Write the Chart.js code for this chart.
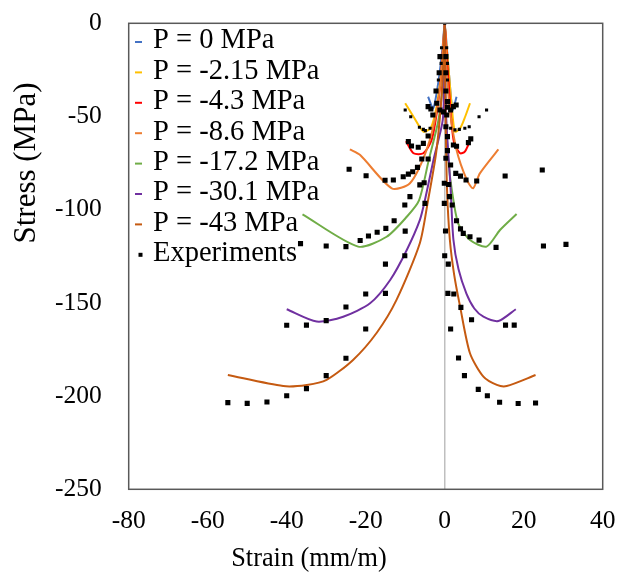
<!DOCTYPE html>
<html>
<head>
<meta charset="utf-8">
<script src="https://cdn.jsdelivr.net/npm/chart.js@4.4.0/dist/chart.umd.min.js"></script>
<style>
  html, body { margin: 0; padding: 0; background: #fff; }
</style>
</head>
<body>
<canvas id="grafica-esfuerzo" width="620" height="578"></canvas>
<script>
// Datos (Strain mm/m vs Stress MPa)
const etiquetas = ['P = 0 MPa', 'P = -2.15 MPa', 'P = -4.3 MPa', 'P = -8.6 MPa',
  'P = -17.2 MPa', 'P = -30.1 MPa', 'P = -43 MPa'];
const colores = ['#4472C4', '#FFC000', '#FF0000', '#ED7D31', '#70AD47', '#7030A0', '#C55A11'];

const p0X = [-4.2, -2.9, -1.5, -0.5, 0, 0.5, 1.2, 2.0, 3.0];
const p0Y = [-39.4, -45.6, -30, -12, 0, -12, -30, -46.5, -39.4];

const p215X = [-10, -7.9, -5.4, -3.5, -2, -0.8, -0.2, 0, 0.3, 1, 1.8, 2.6, 3.9, 5.2, 6.4];
const p215Y = [-42.9, -50.1, -58.1, -56, -44, -25, -8, 0, -8, -25, -45, -58.1, -56.4, -50, -42.9];

const p43X = [-9.8, -7.9, -5.4, -3.3, -2, -1, -0.3, 0, 0.3, 1, 1.6, 2.4, 3.9, 5.1, 6.4];
const p43Y = [-63.2, -69.7, -69.7, -62.6, -48, -30, -10, 0, -10, -32, -50, -64.4, -69.7, -68.9, -63.2];

const p86X = [-24, -21.4, -13.4, -8.8, -4.6, -2, -0.8, 0, 0.5, 1.3, 3, 5.6, 7.2, 8.9, 13.6];
const p86Y = [-67.6, -70.7, -88.5, -85.8, -68, -46.5, -25, 0, -25, -46.5, -68, -84, -88.5, -80.5, -67.6];

const p172X = [-36, -21.9, -14.7, -9.6, -6.5, -4, -1.6, -0.4, 0, 0.1, 0.4, 1, 1.8, 3.4, 6.4, 10.6, 14, 18.2];
const p172Y = [-102.5, -119.8, -114.5, -103.8, -95, -73, -52, -30, 0, -30, -55, -75, -89.4, -107.3, -116.3, -119.8, -110.9, -102.3];

const p301X = [-40, -32.4, -25.7, -18.9, -13.8, -9.6, -6.3, -5, -2.7, -0.5, -0.1, 0, 0.2, 0.6, 1.4, 2.2, 3.5, 5.5, 7.5, 9.8, 13.6, 18];
const p301Y = [-153.4, -160, -157.4, -150.2, -137.7, -121.6, -105.6, -94.8, -72, -52, -25, 0, -40, -60, -85, -116, -132, -145, -153, -157.4, -159.7, -153.4];

const p430X = [-54.9, -40.9, -34.9, -29.9, -23.2, -17.2, -12.2, -6.3, -4.2, -2.2, -1, -0.3, 0, 0.1, 0.3, 0.6, 1.3, 2.4, 3.9, 6.4, 9.8, 13.2, 15.7, 23];
const p430Y = [-188.7, -194.6, -194, -191.3, -180.6, -166, -148.4, -118, -94.8, -70, -45, -20, 0, -30, -60, -90, -116, -135, -152, -177, -189.6, -194, -194.6, -188.7];

// Experimentos: marcadores grandes
const expX = [-54.9, -50, -45, -40, -35, -30, -25, -20,
  -40, -35, -30, -25, -20, -15, -15, -10.1, -10,
  -36.5, -30, -25, -21.4, -19.3, -17.1, -14.9, -12.8, -10.1, -8.8, -5, -6.3, -5.2,
  -24.2, -19.9, -15.1, -13, -10.5, -9.2, -8.1, -6.9, -5.8, -4.2,
  -9.2, -8.4, -6.7, -5.4, -4.2,
  0.3, 0.7, 1.5, 0.7, 0.3, -0.1, 1, -0.1, 1.2, 1.9, 0.2, 0, 0.9, 0.8, 2.3, 4.1, 6.8, 1.5, 3.5, 5, 8.5, 10.8, 13.9, 18.6, 23, 15.4, 17.6,
  3, 4, 4.7, 6.4, 8.7, 13, 25, 30.7,
  2.8, 4, 5.4, 8.1, 15.3, 24.7,
  2.2, 3, 6, 6.6,
  -4.2, -3.5, -3, -2, -1.2, -0.3, 0.7, 0.7, 2.2, 2.9, 1.5, 0.5,
  -1.2, 0.3, -1.4, 0.3, -2.2, 0.3];
const expY = [-203.5, -203.9, -203.2, -199.8, -196, -189, -179.7, -164,
  -162, -161.9, -159.5, -152.2, -145.2, -144.9, -129.2, -124.7, -111.5,
  -118.2, -119.5, -119.8, -116.5, -114.1, -112.1, -110, -105.9, -97.5, -93, -96.6, -86.7, -85.5,
  -78.3, -81.8, -84.2, -84.1, -82.3, -80.9, -79.6, -77.3, -72.8, -72.8,
  -63.5, -65.8, -66.5, -64.4, -60.5,
  -72.4, -68.3, -76, -60.8, -55.5, -85.8, -86.5, -96.6, -93, -97.5, -111.4, -124.7, -129.2, -144.9, -145.2, -152.4, -159, -164, -179.6, -189, -196.4, -199.8, -203.3, -204, -203.7, -161.9, -161.9,
  -105.9, -110.3, -112.7, -114.5, -116.3, -120.2, -119.5, -118.6,
  -80.5, -82, -84.1, -84.6, -81.9, -78.7,
  -65.3, -66, -64, -62,
  -44.7, -46, -49.2, -42.9, -46.5, -47.5, -42, -45, -44.7, -43.8, -46.5, -49.2,
  -17.9, -17.9, -26.5, -26.5, -36.3, -36.3];

// Experimentos: marcadores pequenos
const expChicoX = [0, -0.8, 0.5, -0.9, 0.7, -1.6, 0.7,
  -10, -8.6, -6.4, -5.4, -4.9, -3.7, 1.5, 2.6, 3.7, 5.1, 6.2, 8.7, 10.6];
const expChicoY = [0, -13.1, -13.1, -21.5, -21.5, -30.4, -30.4,
  -46.5, -50.1, -55.8, -56.9, -57.6, -56.3, -56.3, -57.2, -56.9, -56.3, -55.5, -50.1, -46.5];

const ejeX = { min: -80, max: 40, paso: 20 };
const ejeY = { min: -250, max: 0, paso: 50 };

const fuente = 'Liberation Serif, Times New Roman, serif';

function puntos(xs, ys) {
  return xs.map((x, i) => ({ x: x, y: ys[i] }));
}

const curvas = [[p0X, p0Y], [p215X, p215Y], [p43X, p43Y], [p86X, p86Y],
  [p172X, p172Y], [p301X, p301Y], [p430X, p430Y]];

const datasets = [{
  label: 'Experiments',
  data: puntos(expX, expY),
  showLine: false,
  pointStyle: 'rect',
  pointRadius: 3.6,
  pointBackgroundColor: '#000',
  pointBorderWidth: 0,
  order: 0
}, {
  label: 'exp-small',
  data: puntos(expChicoX, expChicoY),
  showLine: false,
  pointStyle: 'rect',
  pointRadius: 2.2,
  pointBackgroundColor: '#000',
  pointBorderWidth: 0,
  order: 0
}];

curvas.forEach((c, i) => {
  datasets.push({
    label: etiquetas[i],
    data: puntos(c[0], c[1]),
    showLine: true,
    borderColor: colores[i],
    borderWidth: 2,
    pointRadius: 0,
    tension: 0.25,
    order: 10 - i
  });
});

// marco, leyenda y titulos
const extras = {
  id: 'extras',
  afterDraw(chart) {
    const c = chart.ctx;
    const a = chart.chartArea;
    c.save();
    c.strokeStyle = '#595959';
    c.lineWidth = 1.5;
    c.strokeRect(a.left, a.top, a.right - a.left, a.bottom - a.top);

    // leyenda
    c.font = '28.5px ' + fuente;
    c.textBaseline = 'middle';
    c.fillStyle = '#000';
    const y0 = 41, paso = 30.4;
    etiquetas.forEach((t, i) => {
      const y = y0 + i * paso;
      c.strokeStyle = colores[i];
      c.lineWidth = 2;
      c.beginPath();
      c.moveTo(135, y + 1);
      c.lineTo(142, y + 1);
      c.stroke();
      c.fillText(t, 153, y);
    });
    const yE = y0 + 7 * paso;
    c.fillRect(138.5, yE - 1, 4, 4);
    c.fillText('Experiments', 153, yE);

    // titulos de ejes
    c.font = '26.3px ' + fuente;
    c.textAlign = 'center';
    c.fillText('Strain (mm/m)', 309, 559);
    c.translate(27, 163);
    c.rotate(-Math.PI / 2);
    c.font = '31px ' + fuente;
    c.fillText('Stress (MPa)', 0, 0);
    c.restore();
  }
};

const ctx = document.getElementById('grafica-esfuerzo').getContext('2d');
const chart = new Chart(ctx, {
  type: 'scatter',
  data: { datasets: datasets },
  plugins: [extras],
  options: {
    responsive: false,
    animation: false,
    devicePixelRatio: 1,
    events: [],
    layout: { padding: { top: 23.3, right: 17.3, left: 0, bottom: 0 } },
    plugins: {
      legend: { display: false },
      tooltip: { enabled: false }
    },
    scales: {
      x: {
        type: 'linear',
        min: ejeX.min,
        max: ejeX.max,
        ticks: { stepSize: ejeX.paso, color: '#000', padding: 17, font: { family: fuente, size: 25.5 } },
        grid: {
          color: c => (c.tick && c.tick.value === 0 ? '#bfbfbf' : 'rgba(0,0,0,0)'),
          lineWidth: 1.5,
          drawTicks: false
        },
        border: { display: false },
        afterFit: s => { s.height = 88.7; s.paddingLeft = 0; s.paddingRight = 0; }
      },
      y: {
        type: 'linear',
        min: ejeY.min,
        max: ejeY.max,
        ticks: { stepSize: ejeY.paso, color: '#000', padding: 27, font: { family: fuente, size: 25.5 } },
        grid: { display: false, drawTicks: false },
        border: { display: false },
        afterFit: s => { s.width = 128.7; s.paddingTop = 0; s.paddingBottom = 0; }
      }
    }
  }
});
</script>
</body>
</html>
